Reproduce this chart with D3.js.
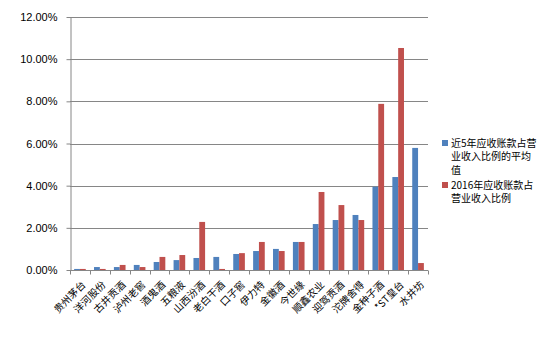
<!DOCTYPE html>
<html>
<head>
<meta charset="utf-8">
<script src="https://cdn.jsdelivr.net/npm/d3@7"></script>
<style>
  html, body { margin: 0; padding: 0; background: #fff; }
  svg { display: block; }
</style>
</head>
<body>
<div id="chart"></div>
<script>
const categories = ['贵州茅台', '洋河股份', '古井贡酒', '泸州老窖', '酒鬼酒', '五粮液', '山西汾酒', '老白干酒', '口子窖',
  '伊力特', '金徽酒', '今世缘', '顺鑫农业', '迎驾贡酒', '沱牌舍得', '金种子酒', '*ST皇台', '水井坊'];
const avg5yr = [0.0005, 0.0014, 0.0014, 0.0024, 0.0038, 0.0047, 0.0057, 0.0062, 0.0076,
  0.0090, 0.0100, 0.0133, 0.0218, 0.0237, 0.0261, 0.0395, 0.0441, 0.0579];
const ratio2016 = [0.0005, 0.0005, 0.0024, 0.0014, 0.0062, 0.0071, 0.0228, 0.0005, 0.0080,
  0.0133, 0.0090, 0.0133, 0.0370, 0.0308, 0.0237, 0.0788, 0.1053, 0.0033];
const yTicks = [0, 0.02, 0.04, 0.06, 0.08, 0.10, 0.12];
const seriesNames = ['近5年应收账款占营业收入比例的平均值', '2016年应收账款占营业收入比例'];
const legendLines = [['近5年应收账款占营', '业收入比例的平均', '值'], ['2016年应收账款占', '营业收入比例']];
const colors = ['#4F81BD', '#C0504D'];

const W = 554, H = 352;
const plot = { left: 70, right: 428, top: 17, bottom: 270 };
const axisColor = '#868686';

const svg = d3.select('#chart').append('svg')
  .attr('width', W).attr('height', H)
  .style('font-family', '"Liberation Sans", Arial, sans-serif');

svg.append('rect').attr('width', W).attr('height', H).attr('fill', '#fff');

const x0 = d3.scaleBand().domain(categories).range([plot.left, plot.right]).padding(0);
const x1 = d3.scaleBand().domain([0, 1]).range([0, x0.bandwidth()]).paddingInner(0).paddingOuter(0.71);
const y = d3.scaleLinear().domain([0, 0.12]).range([plot.bottom, plot.top]);

// gridlines
svg.append('g').selectAll('line').data(yTicks.slice(1)).join('line')
  .attr('x1', plot.left).attr('x2', plot.right)
  .attr('y1', d => Math.round(y(d)) + 0.5).attr('y2', d => Math.round(y(d)) + 0.5)
  .attr('stroke', axisColor).attr('stroke-width', 1);

// bars
const rows = categories.map((c, i) => ({ c, v: [avg5yr[i], ratio2016[i]] }));
const groups = svg.append('g').selectAll('g').data(rows).join('g')
  .attr('transform', d => `translate(${x0(d.c)},0)`);
groups.selectAll('rect').data(d => d.v.map((v, k) => ({ v, k }))).join('rect')
  .attr('x', d => x1(d.k))
  .attr('width', x1.bandwidth())
  .attr('y', d => y(d.v))
  .attr('height', d => y(0) - y(d.v))
  .attr('fill', d => colors[d.k]);

// y axis
const yAxis = svg.append('g')
  .attr('transform', `translate(${plot.left + 0.5},0)`)
  .call(d3.axisLeft(y).tickValues(yTicks).tickFormat(d3.format('.2%')).tickSize(4).tickSizeOuter(0));
yAxis.select('.domain').attr('stroke', axisColor);
yAxis.selectAll('.tick line').attr('stroke', axisColor);
yAxis.selectAll('.tick text').attr('x', -13).attr('fill', '#000')
  .style('font-size', '11px').style('font-family', '"Liberation Sans", Arial, sans-serif');

// x axis
const xAxis = svg.append('g').attr('transform', `translate(0,${plot.bottom + 0.5})`);
xAxis.append('line').attr('x1', plot.left).attr('x2', plot.right).attr('stroke', axisColor);
xAxis.selectAll('.xt').data(d3.range(categories.length + 1)).join('line')
  .attr('class', 'xt')
  .attr('x1', i => Math.round(plot.left + i * x0.step()) + 0.5)
  .attr('x2', i => Math.round(plot.left + i * x0.step()) + 0.5)
  .attr('y1', 0).attr('y2', 4).attr('stroke', axisColor);

svg.append('g').selectAll('text').data(categories).join('text')
  .attr('transform', d => `translate(${x0(d) + x0.bandwidth() / 2 + 4},${plot.bottom + 13}) rotate(-45)`)
  .attr('text-anchor', 'end')
  .attr('dy', '0.35em')
  .style('font-family', '"Noto Sans CJK SC", sans-serif')
  .style('font-size', '10px')
  .attr('fill', '#000')
  .text(d => d);

// legend
const legend = svg.append('g').attr('transform', 'translate(442,0)');
const legendTop = [143, 185];
legendLines.forEach((lines, k) => {
  legend.append('rect')
    .attr('x', 0).attr('y', legendTop[k] - 3).attr('width', 6).attr('height', 6)
    .attr('fill', colors[k]);
  legend.append('text')
    .attr('x', 9).attr('y', legendTop[k])
    .style('font-family', '"Noto Sans CJK SC", sans-serif')
    .style('font-size', '10px')
    .attr('fill', '#000')
    .selectAll('tspan').data(lines).join('tspan')
    .attr('x', 9)
    .attr('dy', (d, i) => i === 0 ? '0.35em' : 13.5)
    .text(d => d);
});
</script>
</body>
</html>
